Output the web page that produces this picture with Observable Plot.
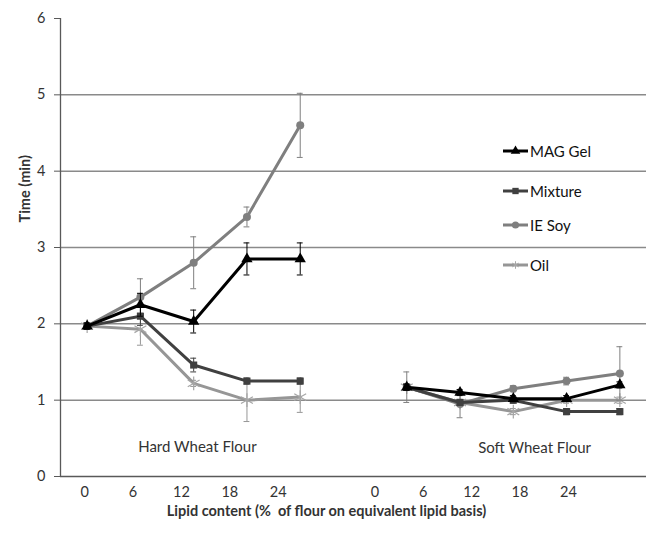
<!DOCTYPE html>
<html>
<head>
<meta charset="utf-8">
<script src="https://cdn.jsdelivr.net/npm/d3@7"></script>
<script src="https://cdn.jsdelivr.net/npm/@observablehq/plot@0.6"></script>
<style>
  html, body { margin: 0; padding: 0; background: #fff; }
  #wrap { position: relative; width: 646px; height: 533px; font-family: Lato, "Open Sans", sans-serif; }
  #legend { position: absolute; left: 502px; top: 142px; font-size: 15px; color: #111; }
  #legend .row { display: flex; align-items: center; height: 17px; }
  #legend svg { display: block; margin-right: 1px; }
</style>
</head>
<body>
<div id="wrap">
  <div id="chart"></div>
  <div id="legend"></div>
</div>
<script>
// ---- data ----
const groups = ["Hard Wheat Flour", "Soft Wheat Flour"];
const lipid = [0, 6, 12, 18, 24];
const seriesNames = ["MAG Gel", "Mixture", "IE Soy", "Oil"];
const seriesColors = ["#000000", "#404040", "#7f7f7f", "#969696"];
const seriesSymbols = ["triangle", "square", "circle", "asterisk"];

// values per series: [hard wheat 0..24, soft wheat 0..24]
const magGel   = [[1.97, 2.25, 2.03, 2.85, 2.85], [1.17, 1.10, 1.02, 1.02, 1.20]];
const mixture  = [[1.97, 2.10, 1.46, 1.25, 1.25], [1.17, 0.97, 1.00, 0.85, 0.85]];
const ieSoy    = [[1.97, 2.35, 2.80, 3.40, 4.60], [1.17, 0.95, 1.15, 1.25, 1.35]];
const oil      = [[1.97, 1.93, 1.22, 1.00, 1.04], [1.17, 0.97, 0.85, 1.00, 1.00]];

// error bars (± min)
const magGelErr  = [[0.04, 0.15, 0.15, 0.21, 0.21], [0.04, 0.04, 0.04, 0.04, 0.04]];
const mixtureErr = [[0.04, 0.12, 0.09, 0.04, 0.04], [0.04, 0.04, 0.04, 0.04, 0.04]];
const ieSoyErr   = [[0.04, 0.24, 0.34, 0.13, 0.42], [0.20, 0.18, 0.04, 0.05, 0.35]];
const oilErr     = [[0.04, 0.21, 0.04, 0.28, 0.20], [0.04, 0.04, 0.04, 0.04, 0.04]];

const yTicks = [0, 1, 2, 3, 4, 5, 6];
const gridLines = [1, 2, 3, 4, 5];

// ---- table ----
const allValues = [magGel, mixture, ieSoy, oil];
const allErr = [magGelErr, mixtureErr, ieSoyErr, oilErr];
const rows = [];
seriesNames.forEach((s, si) => {
  groups.forEach((g, gi) => {
    lipid.forEach((l, li) => {
      rows.push({
        series: s, group: g, lipid: l,
        slot: gi * 6 + li + 0.5,
        value: allValues[si][gi][li],
        err: allErr[si][gi][li]
      });
    });
  });
});

// tick label slots (category axis of the original sits slightly narrower than the points)
const labelStretch = 0.908;
const tickRows = [];
groups.forEach((g, gi) => lipid.forEach((l, li) => {
  tickRows.push({ label: String(l), slot: (gi * 6 + li + 0.5) * labelStretch });
}));

const cap = 0.055;
const drawOrder = ["Oil", "IE Soy", "Mixture", "MAG Gel"];
const colorOf = s => seriesColors[seriesNames.indexOf(s)];
const symbolOf = s => seriesSymbols[seriesNames.indexOf(s)];

const marks = [
  Plot.ruleY(gridLines, { stroke: "#8a8a8a", strokeWidth: 1.5 }),
  Plot.ruleY([0], { stroke: "#595959", strokeWidth: 1.3 }),
  Plot.ruleX([0], { stroke: "#595959", strokeWidth: 1.3 }),
  Plot.axisY({ ticks: yTicks, tickSize: 6, tickPadding: 9, fontSize: 14.5, color: "#333", tickFormat: d => String(d), label: null, stroke: "#595959" }),
  Plot.text(tickRows, { x: "slot", text: "label", frameAnchor: "bottom", dy: 20, fontSize: 14.5, fill: "#333" }),
  Plot.text(["Lipid content (%\u00a0 of flour on equivalent lipid basis)"], { frameAnchor: "bottom", dx: -27, dy: 39, fontSize: 14.5, fontWeight: "bold", fill: "#333" }),
  Plot.text(["Time (min)"], { frameAnchor: "left", dx: -35, dy: -25, rotate: -90, fontSize: 14.5, fontWeight: "bold", fill: "#333" }),
  Plot.text([groups[0]], { x: [2.57], frameAnchor: "bottom", dy: -25, fontSize: 15, fill: "#333" }),
  Plot.text([groups[1]], { x: [8.9], frameAnchor: "bottom", dy: -24, fontSize: 15, fill: "#333" })
];

for (const s of drawOrder) {
  const d = rows.filter(r => r.series === s);
  const c = colorOf(s);
  marks.push(
    Plot.ruleX(d, { x: "slot", y1: r => r.value - r.err, y2: r => r.value + r.err, stroke: c, strokeWidth: 1 }),
    Plot.ruleY(d, { x1: r => r.slot - cap, x2: r => r.slot + cap, y: r => r.value + r.err, stroke: c, strokeWidth: 1 }),
    Plot.ruleY(d, { x1: r => r.slot - cap, x2: r => r.slot + cap, y: r => r.value - r.err, stroke: c, strokeWidth: 1 }),
    Plot.line(d, { x: "slot", y: "value", z: "group", stroke: c, strokeWidth: 3, curve: "linear" })
  );
  if (s === "Oil") {
    marks.push(Plot.dot(d, { x: "slot", y: "value", symbol: () => "asterisk", r: 6.5, stroke: "#a6a6a6", strokeWidth: 1.2 }));
  } else {
    marks.push(Plot.dot(d, { x: "slot", y: "value", symbol: () => symbolOf(s), r: s === "MAG Gel" ? 4.2 : 4, fill: c, stroke: "none" }));
  }
}

const chart = Plot.plot({
  width: 646,
  height: 533,
  marginLeft: 60,
  marginRight: 0,
  marginTop: 18,
  marginBottom: 57,
  style: { fontFamily: "Lato, 'Open Sans', sans-serif", background: "#fff" },
  x: { type: "linear", domain: [0, 11], axis: null },
  y: { type: "linear", domain: [0, 6], axis: null },
  symbol: { type: "identity" },
  marks
});
document.getElementById("chart").appendChild(chart);

// ---- legend ----
const legend = document.getElementById("legend");
const legendGaps = [0, 23, 17, 23];
seriesNames.forEach((s, i) => {
  const row = document.createElement("div");
  row.className = "row";
  row.style.marginTop = legendGaps[i] + "px";
  const c = seriesColors[i];
  const sym = d3.symbol(d3["symbol" + { triangle: "Triangle", square: "Square", circle: "Circle", asterisk: "Asterisk" }[seriesSymbols[i]]], 40)();
  const filled = seriesSymbols[i] !== "asterisk";
  row.innerHTML =
    `<svg width="27" height="14"><line x1="1" x2="26" y1="7" y2="7" stroke="${c}" stroke-width="3"/>` +
    `<path transform="translate(13.5,7)" d="${sym}" fill="${filled ? c : "none"}" stroke="${filled ? "none" : "#a6a6a6"}" stroke-width="1"/></svg>` +
    `<span>${s}</span>`;
  legend.appendChild(row);
});
</script>
</body>
</html>
